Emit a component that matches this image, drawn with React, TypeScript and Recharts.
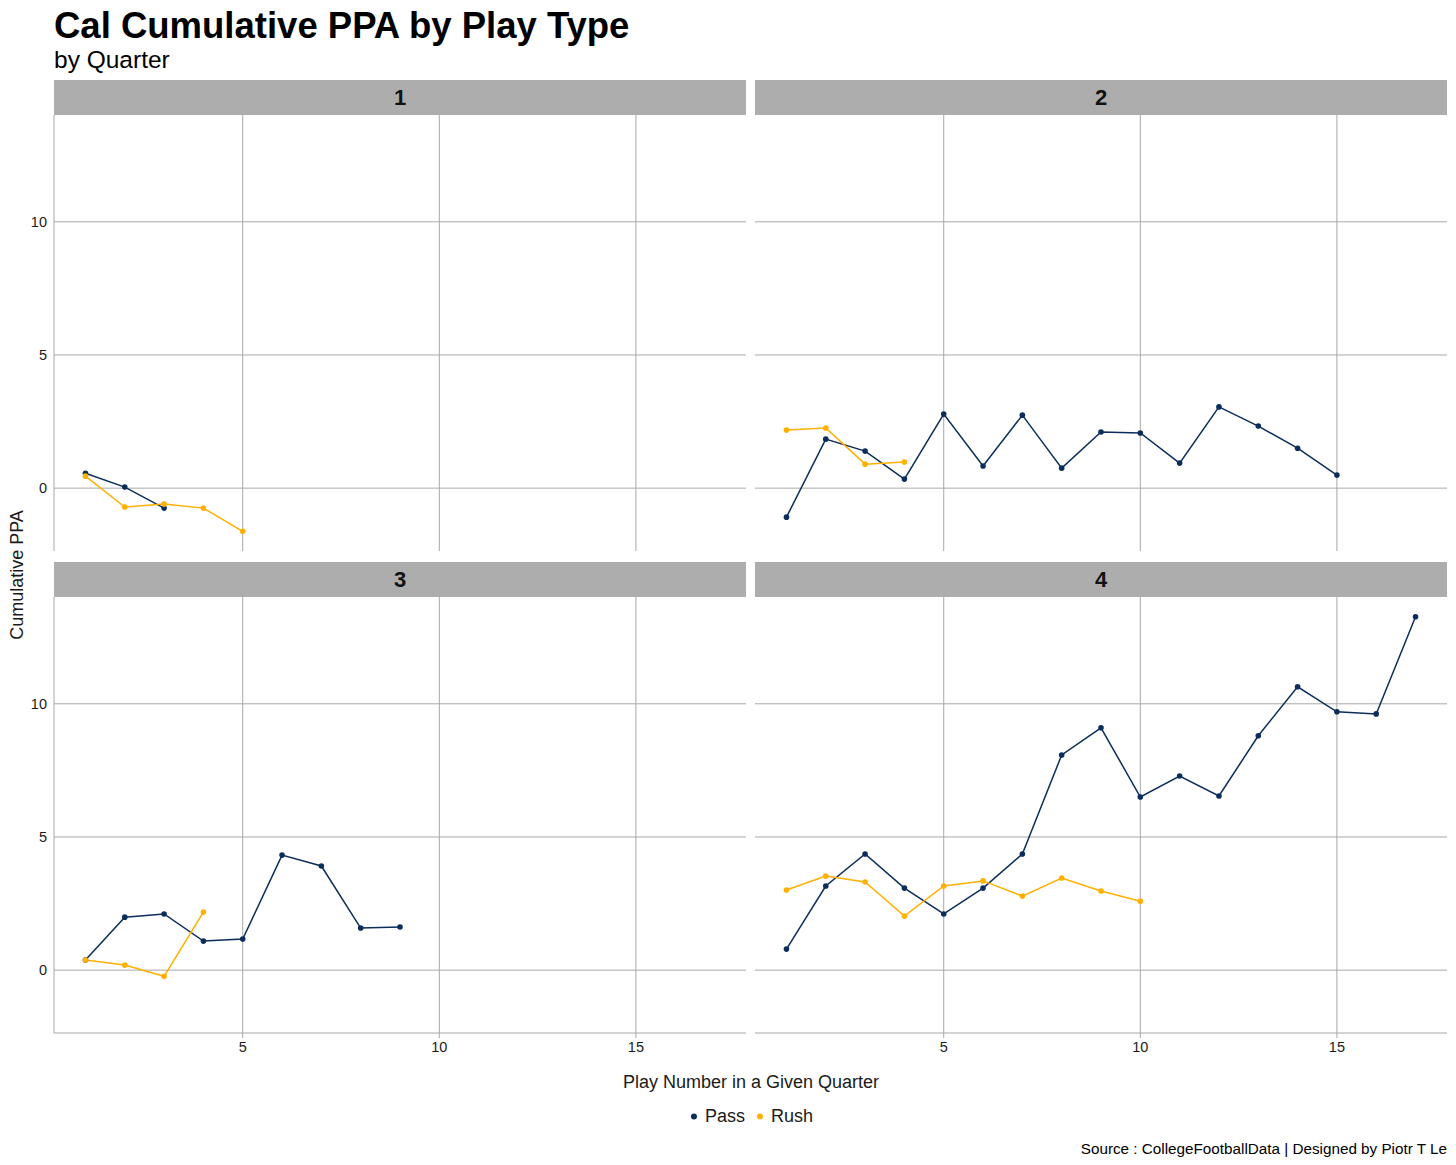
import React from 'react';
import { LineChart, Line, XAxis, YAxis, CartesianGrid } from 'recharts';

// cumulative PPA per play, index = play number - 1
const q1Pass = [0.56, 0.04, -0.75];
const q1Rush = [0.45, -0.71, -0.6, -0.75, -1.62];
const q2Pass = [-1.09, 1.84, 1.39, 0.34, 2.78, 0.83, 2.74, 0.75, 2.11, 2.07, 0.94, 3.05, 2.33, 1.5, 0.49];
const q2Rush = [2.18, 2.26, 0.9, 0.98];
const q3Pass = [0.38, 1.99, 2.11, 1.09, 1.17, 4.32, 3.91, 1.58, 1.62];
const q3Rush = [0.38, 0.19, -0.23, 2.18];
const q4Pass = [0.79, 3.16, 4.36, 3.08, 2.11, 3.08, 4.36, 8.08, 9.1, 6.5, 7.29, 6.54, 8.8, 10.64, 9.7, 9.62, 13.27];
const q4Rush = [3.01, 3.53, 3.31, 2.03, 3.16, 3.35, 2.78, 3.46, 2.97, 2.59];

const xTicks = [5, 10, 15];
const yTicks = [0, 5, 10];
const xDomain = [0.2, 17.8];
const yDomain = [-2.36, 14.01];

const PASS = '#0b2d5b';
const RUSH = '#ffb000';
const GRID = '#a8a8a8';
const FONT = '"Liberation Sans", Arial, Helvetica, sans-serif';

const toPoints = (vals: number[]) => vals.map((y, i) => ({ x: i + 1, y }));

const noTick = () => <g />;
const tickStyle = { fontSize: 14.5, fill: '#1a1a1a', fontFamily: FONT };

interface PanelProps {
  quarter: string;
  pass: number[];
  rush: number[];
  left: number;
  top: number;
  showX: boolean;
  showY: boolean;
}

const Panel = ({ quarter, pass, rush, left, top, showX, showY }: PanelProps) => {
  const plotW = 692;
  const plotH = 436;
  const yW = showY ? 54 : 0;
  const xH = showX ? 30 : 0;
  return (
    <div style={{ position: 'absolute', left: left - yW, top }}>
      <div
        style={{
          position: 'absolute',
          left: yW,
          top: 0,
          width: plotW,
          height: 35,
          background: '#adadad',
          display: 'flex',
          alignItems: 'center',
          justifyContent: 'center',
          fontWeight: 'bold',
          fontSize: 22,
          color: '#111',
        }}
      >
        {quarter}
      </div>
      <div style={{ position: 'absolute', left: 0, top: 35 }}>
        <LineChart width={yW + plotW} height={plotH + xH} margin={{ top: 0, right: 0, bottom: 0, left: 0 }}>
          <CartesianGrid stroke={GRID} strokeWidth={1} syncWithTicks />
          <XAxis
            type="number"
            dataKey="x"
            domain={xDomain}
            ticks={xTicks}
            allowDataOverflow
            height={xH}
            tick={showX ? tickStyle : noTick}
            axisLine={showX ? { stroke: GRID } : false}
            tickLine={showX ? { stroke: GRID } : false}
            tickSize={5}
            tickMargin={4}
          />
          <YAxis
            type="number"
            domain={yDomain}
            ticks={yTicks}
            allowDataOverflow
            width={yW}
            tick={showY ? tickStyle : noTick}
            axisLine={showY ? { stroke: GRID } : false}
            tickLine={false}
            tickSize={5}
            tickMargin={2}
          />
          <Line
            data={toPoints(pass)}
            dataKey="y"
            stroke={PASS}
            strokeWidth={1.5}
            dot={{ r: 2.8, fill: PASS, stroke: PASS, strokeWidth: 0 }}
            isAnimationActive={false}
          />
          <Line
            data={toPoints(rush)}
            dataKey="y"
            stroke={RUSH}
            strokeWidth={1.5}
            dot={{ r: 2.8, fill: RUSH, stroke: RUSH, strokeWidth: 0 }}
            isAnimationActive={false}
          />
        </LineChart>
      </div>
    </div>
  );
};

export default function App() {
  return (
    <div
      style={{
        position: 'absolute',
        left: 0,
        top: 0,
        width: 1456,
        height: 1165,
        background: '#fff',
        fontFamily: FONT,
        color: '#000',
        overflow: 'hidden',
      }}
    >
      <div style={{ position: 'absolute', left: 54, top: 5, fontSize: 36.5, fontWeight: 'bold', lineHeight: '42px' }}>
        Cal Cumulative PPA by Play Type
      </div>
      <div style={{ position: 'absolute', left: 54, top: 46, fontSize: 24.5, lineHeight: '28px' }}>by Quarter</div>

      <Panel quarter="1" pass={q1Pass} rush={q1Rush} left={54} top={80} showX={false} showY />
      <Panel quarter="2" pass={q2Pass} rush={q2Rush} left={755} top={80} showX={false} showY={false} />
      <Panel quarter="3" pass={q3Pass} rush={q3Rush} left={54} top={562} showX showY />
      <Panel quarter="4" pass={q4Pass} rush={q4Rush} left={755} top={562} showX showY={false} />

      <div
        style={{
          position: 'absolute',
          left: 17,
          top: 575,
          transform: 'translate(-50%, -50%) rotate(-90deg)',
          fontSize: 18,
          whiteSpace: 'nowrap',
          color: '#1a1a1a',
        }}
      >
        Cumulative PPA
      </div>
      <div
        style={{
          position: 'absolute',
          left: 751,
          top: 1082,
          transform: 'translate(-50%, -50%)',
          fontSize: 18,
          whiteSpace: 'nowrap',
          color: '#1a1a1a',
        }}
      >
        Play Number in a Given Quarter
      </div>
      <div
        style={{
          position: 'absolute',
          left: 752,
          top: 1116,
          transform: 'translate(-50%, -50%)',
          display: 'flex',
          alignItems: 'center',
          fontSize: 18,
          whiteSpace: 'nowrap',
          color: '#1a1a1a',
        }}
      >
        <span style={{ width: 6, height: 6, borderRadius: 3, background: PASS, marginRight: 8 }} />
        <span style={{ marginRight: 12 }}>Pass</span>
        <span style={{ width: 6, height: 6, borderRadius: 3, background: RUSH, marginRight: 8 }} />
        <span>Rush</span>
      </div>
      <div
        style={{
          position: 'absolute',
          right: 9,
          top: 1139,
          fontSize: 15.25,
          lineHeight: '19px',
          whiteSpace: 'nowrap',
          color: '#000',
        }}
      >
        Source : CollegeFootballData | Designed by Piotr T Le
      </div>
    </div>
  );
}
